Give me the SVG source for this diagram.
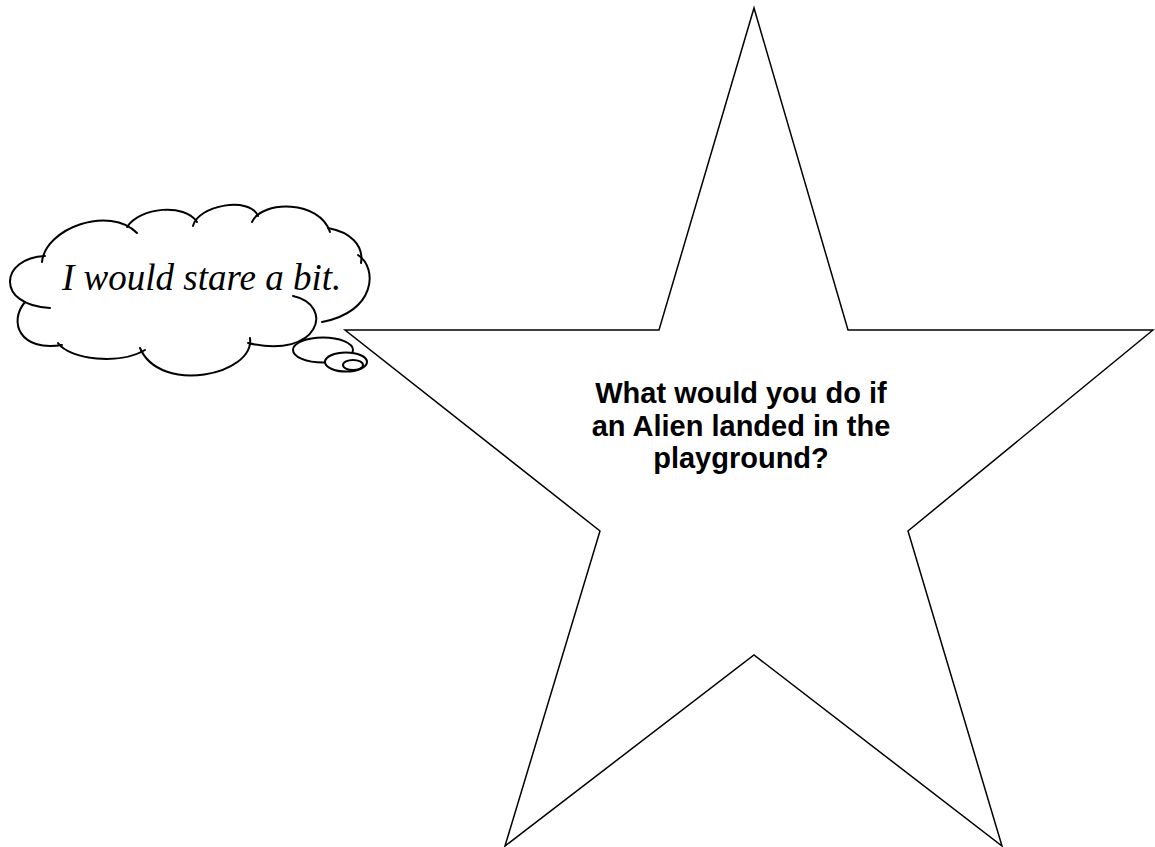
<svg xmlns="http://www.w3.org/2000/svg" width="1155" height="847" viewBox="0 0 1155 847">
<style>
.star{fill:#fff;stroke:#000;stroke-width:1.5;stroke-linejoin:miter}
.lobe{fill:none;stroke:#000;stroke-width:2;stroke-linecap:round}
.bub{fill:#fff;stroke:#000;stroke-width:2}
.q{font-family:"Liberation Sans",Arial,sans-serif;font-weight:bold;font-size:29px;fill:#000;text-anchor:middle}
.a{font-family:"Liberation Serif","Times New Roman",serif;font-style:italic;font-size:37px;fill:#000}
</style>
<rect width="1155" height="847" fill="#fff"/>
<g id="star">
<polygon class="star" points="754,8 848,330 1153,330 908,531 1002,846 754,655 505,846 600,531 345,330 659,330"/>
<text class="q" x="741" y="403">What would you do if</text>
<text class="q" x="741" y="436">an Alien landed in the</text>
<text class="q" x="741" y="468">playground?</text>
</g>
<g id="cloud">
<path d="M0,0" fill="none"/>
<path class="lobe" d="M42,262 C45,228 110,205 137,233"/>
<path class="lobe" d="M127,227 C140,207 185,203 197,222"/>
<path class="lobe" d="M193,226 C198,205 250,196 258,216"/>
<path class="lobe" d="M252,222 C262,200 320,200 330,232"/>
<path class="lobe" d="M328,228 C350,232 364,245 361,263"/>
<path class="lobe" d="M358,255 C378,268 376,312 322,322"/>
<path class="lobe" d="M293,296 C335,305 320,360 248,343"/>
<path class="lobe" d="M250,338 C255,375 160,395 140,348"/>
<path class="lobe" d="M145,350 C120,365 70,360 58,343"/>
<path class="lobe" d="M62,345 C20,352 8,322 25,302"/>
<path class="lobe" d="M45,256 C0,258 -5,305 50,308"/>
<text class="a" x="62" y="290">I would stare a bit.</text>
</g>
<g id="bubbles">
<ellipse class="bub" cx="323" cy="350" rx="30" ry="12.5"/>
<ellipse class="bub" cx="346" cy="362" rx="21" ry="9.5"/>
<ellipse class="bub" cx="353" cy="365" rx="10" ry="5"/>
</g>
</svg>
